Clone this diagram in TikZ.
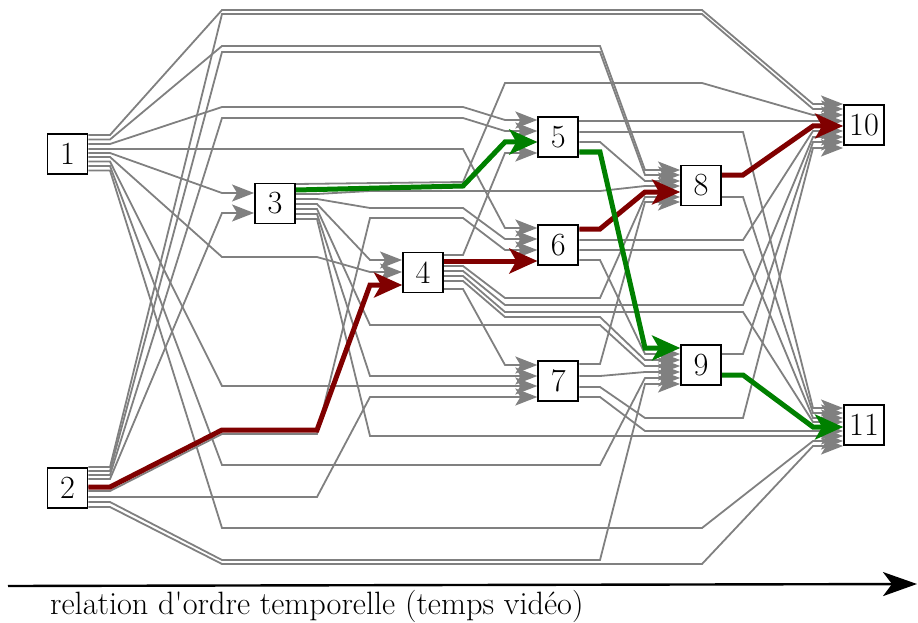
\documentclass[tikz,border=0pt]{standalone}
\usepackage{fontspec}
\usetikzlibrary{arrows.meta}
\definecolor{edgegray}{RGB}{128,128,128}
\definecolor{pathred}{RGB}{128,0,0}
\definecolor{pathgreen}{RGB}{0,128,0}
\pgfdeclarelayer{bg}
\pgfsetlayers{bg,main}
\newcommand{\edg}[6][edge]{\draw[#1] (#2.east |- 0,#3) -- #4 -- (#5.west |- 0,#6);}
\begin{document}
\begin{tikzpicture}[x=1pt,y=-1pt,
  box/.style={draw=black, line width=1.9pt, fill=white, minimum width=40pt, minimum height=40pt, inner sep=0pt, font=\fontsize{32.3}{38}\selectfont},
  edge/.style={draw=edgegray, line width=1.8pt, -{Stealth[length=22pt,width=17pt,inset=5pt]}},
  redpath/.style={draw=pathred, line width=5pt, -{Stealth[length=28pt,width=25pt,inset=7pt]}},
  greenpath/.style={draw=pathgreen, line width=5pt, -{Stealth[length=28pt,width=25pt,inset=7pt]}},
  axis/.style={draw=black, line width=2.4pt, -{Stealth[length=34pt,width=24pt,inset=9pt]}},
  lbl/.style={font=\fontsize{32.3}{38}\selectfont}
]
\useasboundingbox (0,0) rectangle (918,623);
\node[box] (n1) at (67.5,154) {1};
\node[box] (n2) at (67.5,488) {2};
\node[box] (n3) at (275,203.5) {3};
\node[box] (n4) at (423,272.5) {4};
\node[box] (n5) at (558.3,137) {5};
\node[box] (n6) at (558.3,245) {6};
\node[box] (n7) at (558.3,381) {7};
\node[box] (n8) at (701,185.5) {8};
\node[box] (n9) at (701,365) {9};
\node[box] (n10) at (864,125) {10};
\node[box] (n11) at (864,425) {11};

\begin{pgfonlayer}{bg}
% from 1
\edg{n1}{135}{(110,135) -- (222,10) -- (702,10) -- (813,104)}{n10}{104}
\edg{n1}{139.5}{(110,139.5) -- (222,46) -- (600,46) -- (645,170)}{n8}{170}
\edg{n1}{144}{(110,144) -- (222,107) -- (463,107) -- (505,120)}{n5}{120}
\edg{n1}{149}{(463,149) -- (505,228)}{n6}{228}
\edg{n1}{153}{(110,153) -- (222,193)}{n3}{193}
\edg{n1}{157}{(110,157) -- (222,257) -- (317,257) -- (370,272)}{n4}{272}
\edg{n1}{161.5}{(110,161.5) -- (222,386) -- (505,386)}{n7}{386}
\edg{n1}{166}{(110,166) -- (222,465) -- (600,465) -- (645,378)}{n9}{378}
\edg{n1}{170.5}{(110,170.5) -- (222,528) -- (702,528) -- (813,441)}{n11}{441}
% from 2
\edg{n2}{467}{(110,467) -- (222,14) -- (702,14) -- (813,109)}{n10}{109}
\edg{n2}{471}{(110,471) -- (222,52) -- (600,52) -- (645,175)}{n8}{175}
\edg{n2}{475}{(110,475) -- (222,118) -- (463,118) -- (505,131)}{n5}{131}
\edg{n2}{479}{(110,479) -- (222,213)}{n3}{213}
\edg{n2}{487}{(110,487) -- (222,430) -- (317,430) -- (370,285)}{n4}{285}
\edg{n2}{491}{(110,491) -- (222,434) -- (317,434) -- (370,218) -- (463,218) -- (505,250)}{n6}{250}
\edg{n2}{497}{(317,497) -- (370,397) -- (505,397)}{n7}{397}
\edg{n2}{502}{(110,502) -- (222,560) -- (600,560) -- (645,384)}{n9}{384}
\edg{n2}{507}{(110,507) -- (222,564) -- (702,564) -- (813,446)}{n11}{446}
% from 3
\edg{n3}{184}{(463,182) -- (505,83) -- (702,83) -- (813,115)}{n10}{115}
\edg{n3}{190}{(463,186) -- (505,142)}{n5}{142}
\edg{n3}{194}{(317,194) -- (370,191) -- (600,191) -- (645,186)}{n8}{186}
\edg{n3}{199}{(317,199) -- (370,208) -- (463,208) -- (505,239)}{n6}{239}
\edg{n3}{204}{(317,204) -- (370,260)}{n4}{260}
\edg{n3}{209}{(317,209) -- (370,325) -- (600,325) -- (645,366)}{n9}{366}
\edg{n3}{214}{(317,214) -- (370,376) -- (505,376)}{n7}{376}
\edg{n3}{219}{(317,219) -- (370,436) -- (813,436)}{n11}{436}
% from 4
\edg{n4}{255}{(463,255) -- (505,153)}{n5}{153}
\edg{n4}{261}{(505,261)}{n6}{261}
\edg{n4}{266}{(463,266) -- (505,298) -- (600,298) -- (645,197)}{n8}{197}
\edg{n4}{271}{(463,271) -- (505,305) -- (743,305) -- (813,137)}{n10}{137}
\edg{n4}{276}{(463,276) -- (505,312) -- (743,312) -- (813,422)}{n11}{422}
\edg{n4}{281}{(463,281) -- (505,317) -- (600,317) -- (645,360)}{n9}{360}
\edg{n4}{289}{(463,289) -- (505,365)}{n7}{365}
% from 5
\edg{n5}{121}{(813,121)}{n10}{121}
\edg{n5}{132}{(743,132) -- (813,408)}{n11}{408}
\edg{n5}{142}{(600,142) -- (645,181)}{n8}{181}
\edg{n5}{152}{(600,152) -- (645,348)}{n9}{348}
% from 6
\edg{n6}{229}{(600,229) -- (645,192)}{n8}{192}
\edg{n6}{240}{(743,240) -- (813,131)}{n10}{131}
\edg{n6}{250}{(743,250) -- (813,418)}{n11}{418}
\edg{n6}{260}{(600,260) -- (645,354)}{n9}{354}
% from 7
\edg{n7}{364}{(600,364) -- (645,202)}{n8}{202}
\edg{n7}{376}{(600,376) -- (645,372)}{n9}{372}
\edg{n7}{387}{(600,387) -- (645,418) -- (743,418) -- (813,148)}{n10}{148}
\edg{n7}{397}{(600,397) -- (645,431) -- (813,431)}{n11}{431}
% from 8
\edg{n8}{175}{(743,175) -- (813,126)}{n10}{126}
\edg{n8}{197}{(743,197) -- (813,413)}{n11}{413}
% from 9
\edg{n9}{354}{(743,354) -- (813,142)}{n10}{142}
\edg{n9}{375}{(743,375) -- (813,427)}{n11}{427}
% highlighted paths
\edg[redpath]{n2}{487}{(110,487) -- (222,430) -- (317,430) -- (370,285)}{n4}{285}
\edg[redpath]{n4}{261}{(505,261)}{n6}{261}
\edg[redpath]{n6}{229}{(600,229) -- (645,192)}{n8}{192}
\edg[redpath]{n8}{175}{(743,175) -- (813,126)}{n10}{126}
\edg[greenpath]{n3}{190}{(463,186) -- (505,142)}{n5}{142}
\edg[greenpath]{n5}{152}{(600,152) -- (645,348)}{n9}{348}
\edg[greenpath]{n9}{375}{(743,375) -- (813,427)}{n11}{427}
\end{pgfonlayer}

\coordinate (axL) at (8,586);
\coordinate (axR) at (917,584);
\draw[axis] (axL) -- (axR);
\node[lbl, anchor=base west, inner sep=0pt] (caption) at (50,614) {relation d\textquotesingle ordre temporelle (temps vidéo)};
\end{tikzpicture}
\end{document}
